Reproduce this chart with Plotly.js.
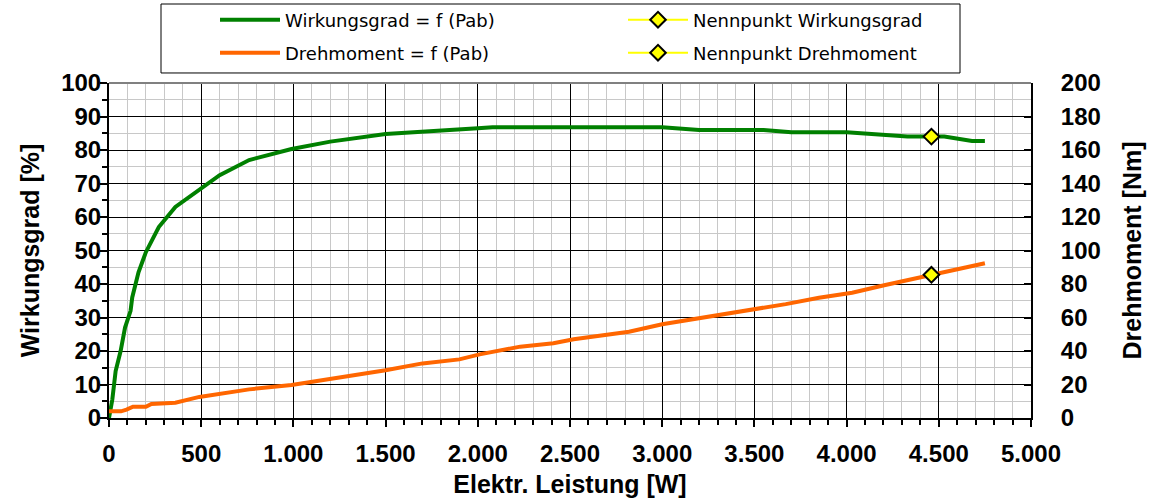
<!DOCTYPE html>
<html>
<head>
<meta charset="utf-8">
<script src="https://cdn.plot.ly/plotly-3.0.1.min.js"></script>
<style>
  html, body { margin: 0; padding: 0; background: #fff; }
  #chart { width: 1158px; height: 498px; }
</style>
</head>
<body>
<div id="chart"></div>
<script>
// Wirkungsgrad über der abgegebenen elektrischen Leistung
const powerEta = [0, 18, 36, 63, 87, 117, 126, 160, 200, 270, 360, 490, 600, 760, 990, 1200, 1500,
  2000, 2080, 3000, 3200, 3550, 3700, 4000, 4120, 4330, 4460, 4530, 4680, 4750];
const eta = [0, 5.5, 14, 20, 27, 32, 36, 43.5, 49.5, 57, 63, 68.3, 72.5, 77, 80.3, 82.5, 84.8,
  86.5, 86.8, 86.8, 86, 86, 85.3, 85.3, 84.8, 84, 84, 84, 82.7, 82.7];

// Drehmoment über der abgegebenen elektrischen Leistung
const powerTorque = [0, 65, 95, 130, 200, 230, 360, 380, 490, 760, 990, 1500, 1700, 1900, 2010,
  2230, 2410, 2520, 2820, 3000, 3190, 3380, 3510, 3670, 3850, 4030, 4210, 4460, 4750];
const torque = [4, 4, 5, 6.7, 6.7, 8.4, 9.1, 9.7, 12.6, 17.1, 19.7, 28.5, 32.6, 35.0, 38,
  42.6, 44.6, 47, 51.5, 56, 59.5, 62.5, 65.5, 68, 71.8, 74.8, 79.4, 85.5, 92.4];

// Nennpunkt
const ratedPower = [4460];
const ratedEta = [84];
const ratedTorque = [85.5];

const names = {
  eta: 'Wirkungsgrad = f (Pab)',
  torque: 'Drehmoment = f (Pab)',
  ratedEta: 'Nennpunkt Wirkungsgrad',
  ratedTorque: 'Nennpunkt Drehmoment'
};

const axisTitles = {
  x: 'Elektr. Leistung [W]',
  y: 'Wirkungsgrad [%]',
  y2: 'Drehmoment [Nm]'
};

const tickFont = { family: 'Liberation Sans, Arial, sans-serif', size: 24, color: '#000', weight: 'bold' };
const titleFont = { family: 'Liberation Sans, Arial, sans-serif', size: 25, color: '#000', weight: 'bold' };
const legendFont = { family: 'DejaVu Sans, sans-serif', size: 18, color: '#000' };

const ratedMarker = { symbol: 'diamond', size: 12, color: '#ffff00', line: { color: '#000', width: 2 } };

const traces = [
  { x: powerEta, y: eta, name: names.eta, type: 'scatter', mode: 'lines',
    line: { color: '#008000', width: 4 }, xaxis: 'x', yaxis: 'y', legend: 'legend' },
  { x: ratedPower, y: ratedEta, name: names.ratedEta, type: 'scatter', mode: 'lines+markers',
    line: { color: '#ffff00', width: 2 }, marker: ratedMarker, xaxis: 'x', yaxis: 'y', legend: 'legend2' },
  { x: powerTorque, y: torque, name: names.torque, type: 'scatter', mode: 'lines',
    line: { color: '#ff6600', width: 4 }, xaxis: 'x', yaxis: 'y2', legend: 'legend3' },
  { x: ratedPower, y: ratedTorque, name: names.ratedTorque, type: 'scatter', mode: 'lines+markers',
    line: { color: '#ffff00', width: 2 }, marker: ratedMarker, xaxis: 'x', yaxis: 'y2', legend: 'legend4' }
];

// one legend per entry, arranged as a 2x2 key above the plot
const legendBase = {
  orientation: 'h', xref: 'container', yref: 'container', xanchor: 'left', yanchor: 'middle',
  itemwidth: 60, font: legendFont, bgcolor: 'rgba(0,0,0,0)', borderwidth: 0
};
const keyCols = [215, 623];
const keyRows = [20, 53];
const keyAt = (col, row) => Object.assign({}, legendBase,
  { x: keyCols[col] / 1158, y: 1 - keyRows[row] / 498 });

const layout = {
  width: 1158, height: 498,
  margin: { l: 109, r: 127, t: 83, b: 80, pad: 0, autoexpand: false },
  paper_bgcolor: '#fff', plot_bgcolor: '#fff',
  separators: ',.',
  showlegend: true,
  legend: keyAt(0, 0),
  legend2: keyAt(1, 0),
  legend3: keyAt(0, 1),
  legend4: keyAt(1, 1),
  xaxis: {
    range: [0, 5000], dtick: 500, tick0: 0, separatethousands: true,
    showline: true, linecolor: '#000', linewidth: 2,
    ticks: 'outside', ticklen: 7, tickwidth: 2, tickcolor: '#000',
    showgrid: true, gridcolor: '#000', gridwidth: 1,
    minor: { dtick: 100, ticks: 'outside', ticklen: 5, tickwidth: 2, tickcolor: '#000',
             showgrid: true, gridcolor: '#c8c8c8', gridwidth: 1 },
    zeroline: false, tickfont: tickFont, ticklabelstandoff: 6,
    title: { text: axisTitles.x, font: titleFont, standoff: 10 }
  },
  xaxis2: {
    overlaying: 'x', anchor: 'y', side: 'bottom', range: [0, 5000], dtick: 500, tick0: 0,
    showline: false, showgrid: false, zeroline: false, showticklabels: false,
    ticks: 'inside', ticklen: 7, tickwidth: 2, tickcolor: '#000',
    minor: { dtick: 100, ticks: 'inside', ticklen: 5, tickwidth: 2, tickcolor: '#000', showgrid: false }
  },
  yaxis: {
    range: [0, 100], dtick: 10, tick0: 0,
    showline: true, linecolor: '#000', linewidth: 2,
    ticks: 'outside', ticklen: 7, tickwidth: 2, tickcolor: '#000',
    showgrid: true, gridcolor: '#000', gridwidth: 1,
    minor: { dtick: 5, ticks: 'outside', ticklen: 5, tickwidth: 2, tickcolor: '#000',
             showgrid: true, gridcolor: '#c8c8c8', gridwidth: 1 },
    zeroline: false, tickfont: tickFont, ticklabelstandoff: -6,
    title: { text: axisTitles.y, font: titleFont, standoff: 14 }
  },
  yaxis3: {
    overlaying: 'y', anchor: 'x', side: 'left', range: [0, 100], dtick: 10, tick0: 0,
    showline: false, showgrid: false, zeroline: false, showticklabels: false,
    ticks: 'inside', ticklen: 7, tickwidth: 2, tickcolor: '#000',
    minor: { dtick: 5, ticks: 'inside', ticklen: 5, tickwidth: 2, tickcolor: '#000', showgrid: false }
  },
  yaxis2: {
    overlaying: 'y', anchor: 'x', side: 'right', range: [0, 200], dtick: 20, tick0: 0,
    showline: true, linecolor: '#000', linewidth: 2,
    ticks: 'inside', ticklen: 7, tickwidth: 2, tickcolor: '#000',
    showgrid: false, zeroline: false, tickfont: tickFont, ticklabelstandoff: 23,
    title: { text: axisTitles.y2, font: titleFont, standoff: 24 }
  },
  shapes: [
    // Rahmen der Legende
    { type: 'rect', xref: 'paper', yref: 'paper', x0: 0.0564, x1: 0.923, y0: 1.0299, y1: 1.2358,
      line: { color: '#000', width: 1 }, fillcolor: 'rgba(0,0,0,0)', layer: 'above' },
    // oberer Rand der Zeichenfläche
    { type: 'line', xref: 'paper', yref: 'paper', x0: 0, x1: 1, y0: 1, y1: 1,
      line: { color: '#808080', width: 2 }, layer: 'above' }
  ]
};

Plotly.newPlot('chart', traces, layout, { displayModeBar: false, staticPlot: true });
</script>
</body>
</html>
